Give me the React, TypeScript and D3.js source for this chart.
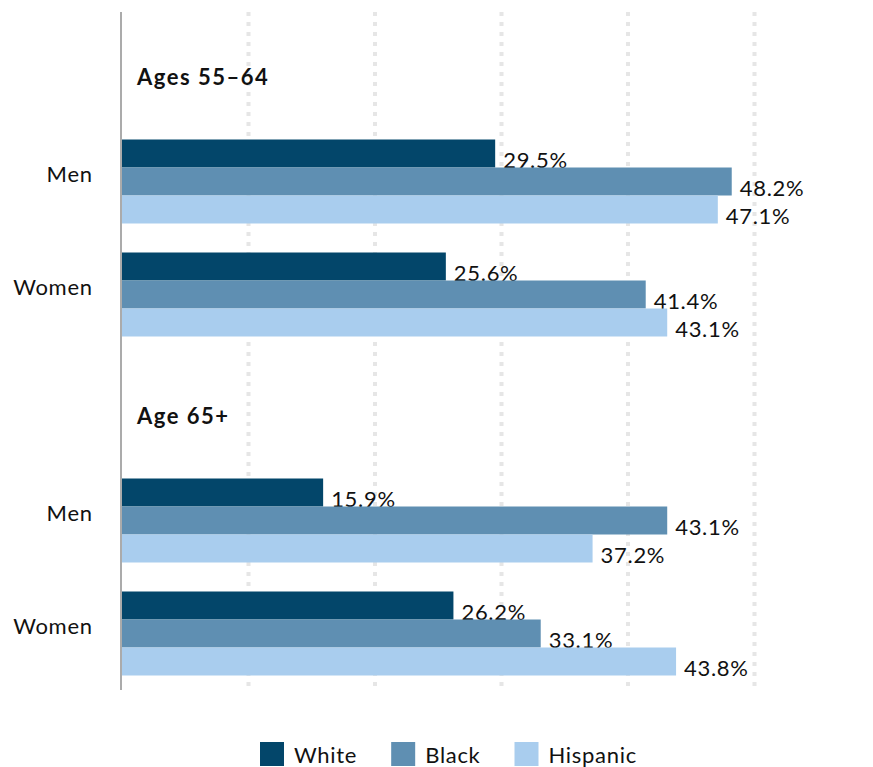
import React, { useEffect, useRef } from "react";
import * as d3 from "d3";

const ageGroups = ["Ages 55–64", "Age 65+"];
const genders = ["Men", "Women"];
const seriesNames = ["White", "Black", "Hispanic"];
const whiteValues = [29.5, 25.6, 15.9, 26.2];
const blackValues = [48.2, 41.4, 43.1, 33.1];
const hispanicValues = [47.1, 43.1, 37.2, 43.8];
const gridTicks = [0, 10, 20, 30, 40, 50];
const seriesColors = ["#03466a", "#5f8fb2", "#a9cdee"];

const W = 873;
const H = 767;
const FONT = "Lato, 'Open Sans', sans-serif";
const LS = 0.7;

export default function App() {
  const ref = useRef<SVGSVGElement | null>(null);

  useEffect(() => {
    const svg = d3.select(ref.current);
    svg.selectAll("*").remove();

    const rows: { key: string; type: string; label: string; idx: number }[] = [];
    let k = 0;
    ageGroups.forEach((g, gi) => {
      rows.push({ key: `h${gi}`, type: "header", label: g, idx: -1 });
      genders.forEach((s) => {
        rows.push({ key: `${gi}-${s}`, type: "cat", label: s, idx: k });
        k++;
      });
    });

    const y0 = d3.scaleBand<string>().domain(rows.map((r) => r.key)).range([12, 690]);
    const y1 = d3.scaleBand<string>().domain(seriesNames).range([14.5, y0.bandwidth() - 14.5]);
    const x = d3.scaleLinear().domain([0, 50]).range([122, 754.5]);

    const seriesData = [whiteValues, blackValues, hispanicValues];

    svg
      .append("g")
      .selectAll("line")
      .data(gridTicks.slice(1))
      .join("line")
      .attr("x1", (d) => x(d))
      .attr("x2", (d) => x(d))
      .attr("y1", 12)
      .attr("y2", 690)
      .attr("stroke", "#e6e6e6")
      .attr("stroke-width", 4)
      .attr("stroke-dasharray", "4,6");

    svg
      .append("line")
      .attr("x1", x(0) - 1)
      .attr("x2", x(0) - 1)
      .attr("y1", 12)
      .attr("y2", 690)
      .attr("stroke", "#ababab")
      .attr("stroke-width", 2);

    rows
      .filter((r) => r.type === "header")
      .forEach((r) => {
        svg
          .append("text")
          .attr("x", 137)
          .attr("y", (y0(r.key) as number) + y0.bandwidth() / 2 + 16)
          .attr("font-family", FONT)
          .attr("font-weight", 700)
          .attr("font-size", 22)
          .attr("letter-spacing", 1.5)
          .attr("fill", "#111")
          .text(r.label);
      });

    const cats = rows.filter((r) => r.type === "cat");

    cats.forEach((r) => {
      svg
        .append("text")
        .attr("x", 92 + LS)
        .attr("y", (y0(r.key) as number) + y0.bandwidth() / 2 + 0.5)
        .attr("text-anchor", "end")
        .attr("font-family", FONT)
        .attr("font-size", 22)
        .attr("letter-spacing", LS)
        .attr("fill", "#111")
        .text(r.label);
    });

    seriesNames.forEach((s, si) => {
      const vals = seriesData[si];
      const g = svg.append("g");
      g.selectAll("rect")
        .data(cats)
        .join("rect")
        .attr("x", x(0))
        .attr("y", (r) => (y0(r.key) as number) + (y1(s) as number))
        .attr("width", (r) => x(vals[r.idx]) - x(0))
        .attr("height", y1.bandwidth())
        .attr("fill", seriesColors[si]);
      g.selectAll("text")
        .data(cats)
        .join("text")
        .attr("x", (r) => x(vals[r.idx]) + 8)
        .attr("y", (r) => (y0(r.key) as number) + (y1(s) as number) + y1.bandwidth() + 0.5)
        .attr("font-family", FONT)
        .attr("font-size", 22)
        .attr("letter-spacing", LS)
        .attr("fill", "#111")
        .text((r) => `${vals[r.idx].toFixed(1)}%`);
    });

    const lg = svg.append("g");
    let cx = 260;
    seriesNames.forEach((s, i) => {
      lg.append("rect")
        .attr("x", cx)
        .attr("y", 742)
        .attr("width", 24)
        .attr("height", 24)
        .attr("fill", seriesColors[i]);
      const t = lg
        .append("text")
        .attr("x", cx + 34)
        .attr("y", 763)
        .attr("font-family", FONT)
        .attr("font-size", 22)
        .attr("letter-spacing", LS)
        .attr("fill", "#111")
        .text(s);
      const w = (t.node() as SVGTextElement).getComputedTextLength();
      cx += 34 + w + 34;
    });
  }, []);

  return (
    <svg
      ref={ref}
      width={W}
      height={H}
      style={{ position: "absolute", left: 0, top: 0, background: "#fff" }}
    />
  );
}
